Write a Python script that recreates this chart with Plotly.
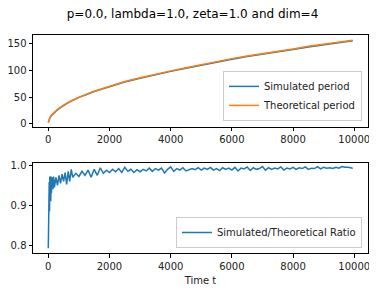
import plotly.graph_objects as go
from plotly.subplots import make_subplots

title_text = "p=0.0, lambda=1.0, zeta=1.0 and dim=4"

# Top panel: period vs time
t_period = [0, 10, 25, 50, 100, 150, 200, 300, 400, 500, 600, 750, 1000, 1250, 1500, 2000, 2500,
            3000, 3500, 4000, 4500, 5000, 5500, 6000, 6500, 7000, 7500, 8000, 8500, 9000, 9500, 9950]
theoretical_period = [3, 5, 8, 11, 16, 19, 22, 27, 31, 35, 38.5, 43, 50, 55.5, 61, 70, 79,
                      86, 93, 99, 105, 111, 116, 122, 127, 131, 136, 140, 145, 149, 153, 156.5]
simulated_period = [2.4, 4.5, 7.3, 10.3, 15.0, 18.2, 21.3, 26.1, 30.2, 34.2, 37.7, 42.2, 49.3, 54.7,
                    60.2, 69.3, 78.1, 85.1, 92.1, 98.1, 104.0, 110.0, 115.0, 120.8, 126.0, 130.0,
                    134.8, 139.0, 143.7, 147.8, 151.9, 155.4]

# Bottom panel: ratio vs time
t_ratio = [0, 10, 20, 30, 40, 50, 60, 70, 80, 90, 100, 125, 150, 175, 200, 250, 300, 350, 400, 450,
           500, 550, 600, 650, 700, 750, 800, 900, 1000, 1100, 1200, 1300, 1400, 1500, 1600, 1700,
           1800, 1900, 2000, 2100, 2200, 2300, 2400, 2500, 2600, 2700, 2800, 2900, 3000, 3100, 3200,
           3300, 3400, 3500, 3600, 3700, 3800, 3900, 4000, 4100, 4200, 4300, 4400, 4500, 4600, 4700,
           4800, 4900, 5000, 5100, 5200, 5300, 5400, 5500, 5600, 5700, 5800, 5900, 6000, 6100, 6200,
           6300, 6400, 6500, 6600, 6700, 6800, 6900, 7000, 7100, 7200, 7300, 7400, 7500, 7600, 7700,
           7800, 7900, 8000, 8100, 8200, 8300, 8400, 8500, 8600, 8700, 8800, 8900, 9000, 9100, 9200,
           9300, 9400, 9500, 9600, 9700, 9800, 9900, 9950]
ratio = [0.792, 0.918, 0.868, 0.958, 0.885, 0.972, 0.905, 0.965, 0.91, 0.972, 0.93, 0.97, 0.94, 0.972,
         0.945, 0.97, 0.95, 0.975, 0.955, 0.978, 0.96, 0.982, 0.952, 0.985, 0.96, 0.99, 0.97, 0.98,
         0.972, 0.985, 0.975, 0.988, 0.97, 0.99, 0.975, 0.994, 0.98, 0.988, 0.982, 0.99, 0.984, 0.992,
         0.982, 0.995, 0.985, 0.99, 0.982, 0.989, 0.984, 0.99, 0.986, 0.993, 0.985, 0.992, 0.988, 0.993,
         0.981, 0.99, 0.996, 0.985, 0.992, 0.988, 0.994, 0.986, 0.99, 0.992, 0.989, 0.994, 0.988, 0.993,
         0.99, 0.995, 0.988, 0.992, 0.987, 0.994, 0.99, 0.993, 0.988, 0.995, 0.986, 0.993, 0.991, 0.996,
         0.987, 0.994, 0.99, 0.992, 0.997, 0.988, 0.994, 0.99, 0.993, 0.991, 0.996, 0.988, 0.993, 0.991,
         0.995, 0.99, 0.994, 0.992, 0.996, 0.99, 0.993, 0.992, 0.997, 0.991, 0.995, 0.993, 0.994, 0.992,
         0.995, 0.993, 0.997, 0.995, 0.995, 0.994, 0.993]

x_ticks = [0, 2000, 4000, 6000, 8000, 10000]
top_y_ticks = [0, 50, 100, 150]
bottom_y_ticks = [0.8, 0.9, 1.0]
bottom_y_labels = ["0.8", "0.9", "1.0"]

blue = "#1f77b4"
orange = "#ff7f0e"

fig = make_subplots(rows=2, cols=1)

fig.add_trace(go.Scatter(x=t_period, y=simulated_period, mode="lines", name="Simulated period",
                         line=dict(color=blue, width=1.5), legend="legend"), row=1, col=1)
fig.add_trace(go.Scatter(x=t_period, y=theoretical_period, mode="lines", name="Theoretical period",
                         line=dict(color=orange, width=1.5), legend="legend"), row=1, col=1)
fig.add_trace(go.Scatter(x=t_ratio, y=ratio, mode="lines", name="Simulated/Theoretical Ratio",
                         line=dict(color=blue, width=1.5), legend="legend2"), row=2, col=1)

axis_common = dict(showline=True, linecolor="black", linewidth=1, mirror=True, showgrid=False,
                   zeroline=False, ticks="outside", ticklen=3.5, tickcolor="black", tickwidth=1,
                   automargin=False,
                   tickfont=dict(family="DejaVu Sans", size=10, color="#222"))

fig.update_xaxes(**axis_common, range=[-500, 10450], tickvals=x_ticks,
                 ticktext=[str(v) for v in x_ticks])
fig.update_xaxes(domain=[0, 1], row=1, col=1)
fig.update_xaxes(domain=[0, 1], row=2, col=1,
                 title=dict(text="Time t", font=dict(family="DejaVu Sans", size=10, color="#222"),
                            standoff=6))
fig.update_yaxes(**axis_common)
fig.update_yaxes(domain=[0.578, 1.0], range=[-6.2, 166.3], tickvals=top_y_ticks, row=1, col=1)
fig.update_yaxes(domain=[0.0, 0.413], range=[0.780, 1.006], tickvals=bottom_y_ticks,
                 ticktext=bottom_y_labels, row=2, col=1)

legend_common = dict(bgcolor="rgba(255,255,255,0.8)", bordercolor="#cccccc", borderwidth=1,
                     font=dict(family="DejaVu Sans", size=10, color="#222"),
                     xanchor="right", yanchor="bottom", tracegroupgap=0, itemwidth=30)

fig.update_layout(
    width=369, height=283,
    margin=dict(l=25, r=9, t=27, b=38, autoexpand=False),
    paper_bgcolor="white", plot_bgcolor="white",
    title=dict(text=title_text, x=0.5, xanchor="center", y=0.979, yanchor="middle",
               font=dict(family="DejaVu Sans", size=12, color="black")),
    showlegend=True,
    legend=dict(**legend_common, x=0.982, y=0.606),
    legend2=dict(**legend_common, x=0.982, y=0.023),
)

fig.write_html("out.html")
